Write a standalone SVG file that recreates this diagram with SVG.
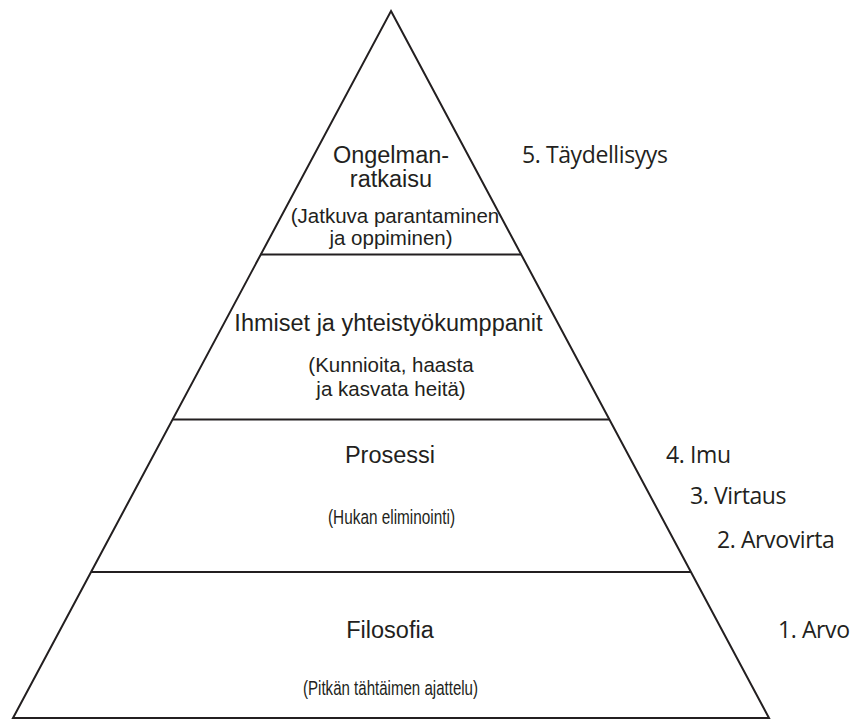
<svg xmlns="http://www.w3.org/2000/svg" width="852" height="720" viewBox="0 0 852 720">
  <style>
    .edge { fill: none; stroke: #231f20; stroke-width: 2; stroke-linejoin: miter; }
    .tier { fill: none; stroke: #231f20; stroke-width: 2; }
    .title { font-family: "Liberation Sans", Arial, sans-serif; font-size: 23.5px; fill: #231f20; text-anchor: middle; }
    .sub { font-family: "Liberation Sans", Arial, sans-serif; font-size: 20.5px; fill: #231f20; text-anchor: middle; }
    .sub-narrow { font-family: "Liberation Sans", Arial, sans-serif; font-size: 20.5px; fill: #231f20; text-anchor: middle; }
    .step { font-family: "Open Sans", "Noto Sans", sans-serif; font-size: 23px; fill: #231f20; letter-spacing: -0.4px; }
  </style>
  <rect width="852" height="720" fill="#ffffff"/>

  <!-- pyramid outline and tier dividers -->
  <g id="connectors">
    <polygon class="edge" points="391,11 769,718 13,718"/>
    <line class="tier" x1="260.5" y1="254.5" x2="521.5" y2="254.5"/>
    <line class="tier" x1="172.5" y1="419.5" x2="609.5" y2="419.5"/>
    <line class="tier" x1="91" y1="572" x2="691" y2="572"/>
  </g>

  <g id="tier-problem-solving">
    <text class="title" x="391" y="163">Ongelman-</text>
    <text class="title" x="391" y="187">ratkaisu</text>
    <text class="sub" x="395" y="223">(Jatkuva parantaminen</text>
    <text class="sub" x="391" y="245">ja oppiminen)</text>
  </g>

  <g id="tier-people">
    <text class="title" x="388.5" y="331">Ihmiset ja yhteistyökumppanit</text>
    <text class="sub" x="391" y="372">(Kunnioita, haasta</text>
    <text class="sub" x="391" y="396">ja kasvata heitä)</text>
  </g>

  <g id="tier-process">
    <text class="title" x="390" y="463">Prosessi</text>
    <text class="sub-narrow" x="391.5" y="524" textLength="127" lengthAdjust="spacingAndGlyphs">(Hukan eliminointi)</text>
  </g>

  <g id="tier-philosophy">
    <text class="title" x="390" y="638">Filosofia</text>
    <text class="sub-narrow" x="390.5" y="695" textLength="175" lengthAdjust="spacingAndGlyphs">(Pitkän tähtäimen ajattelu)</text>
  </g>

  <g id="steps">
    <text class="step" x="522" y="163">5. Täydellisyys</text>
    <text class="step" x="666" y="463">4. Imu</text>
    <text class="step" x="690" y="504">3. Virtaus</text>
    <text class="step" x="717" y="548">2. Arvovirta</text>
    <text class="step" x="778" y="638">1. Arvo</text>
  </g>
</svg>
